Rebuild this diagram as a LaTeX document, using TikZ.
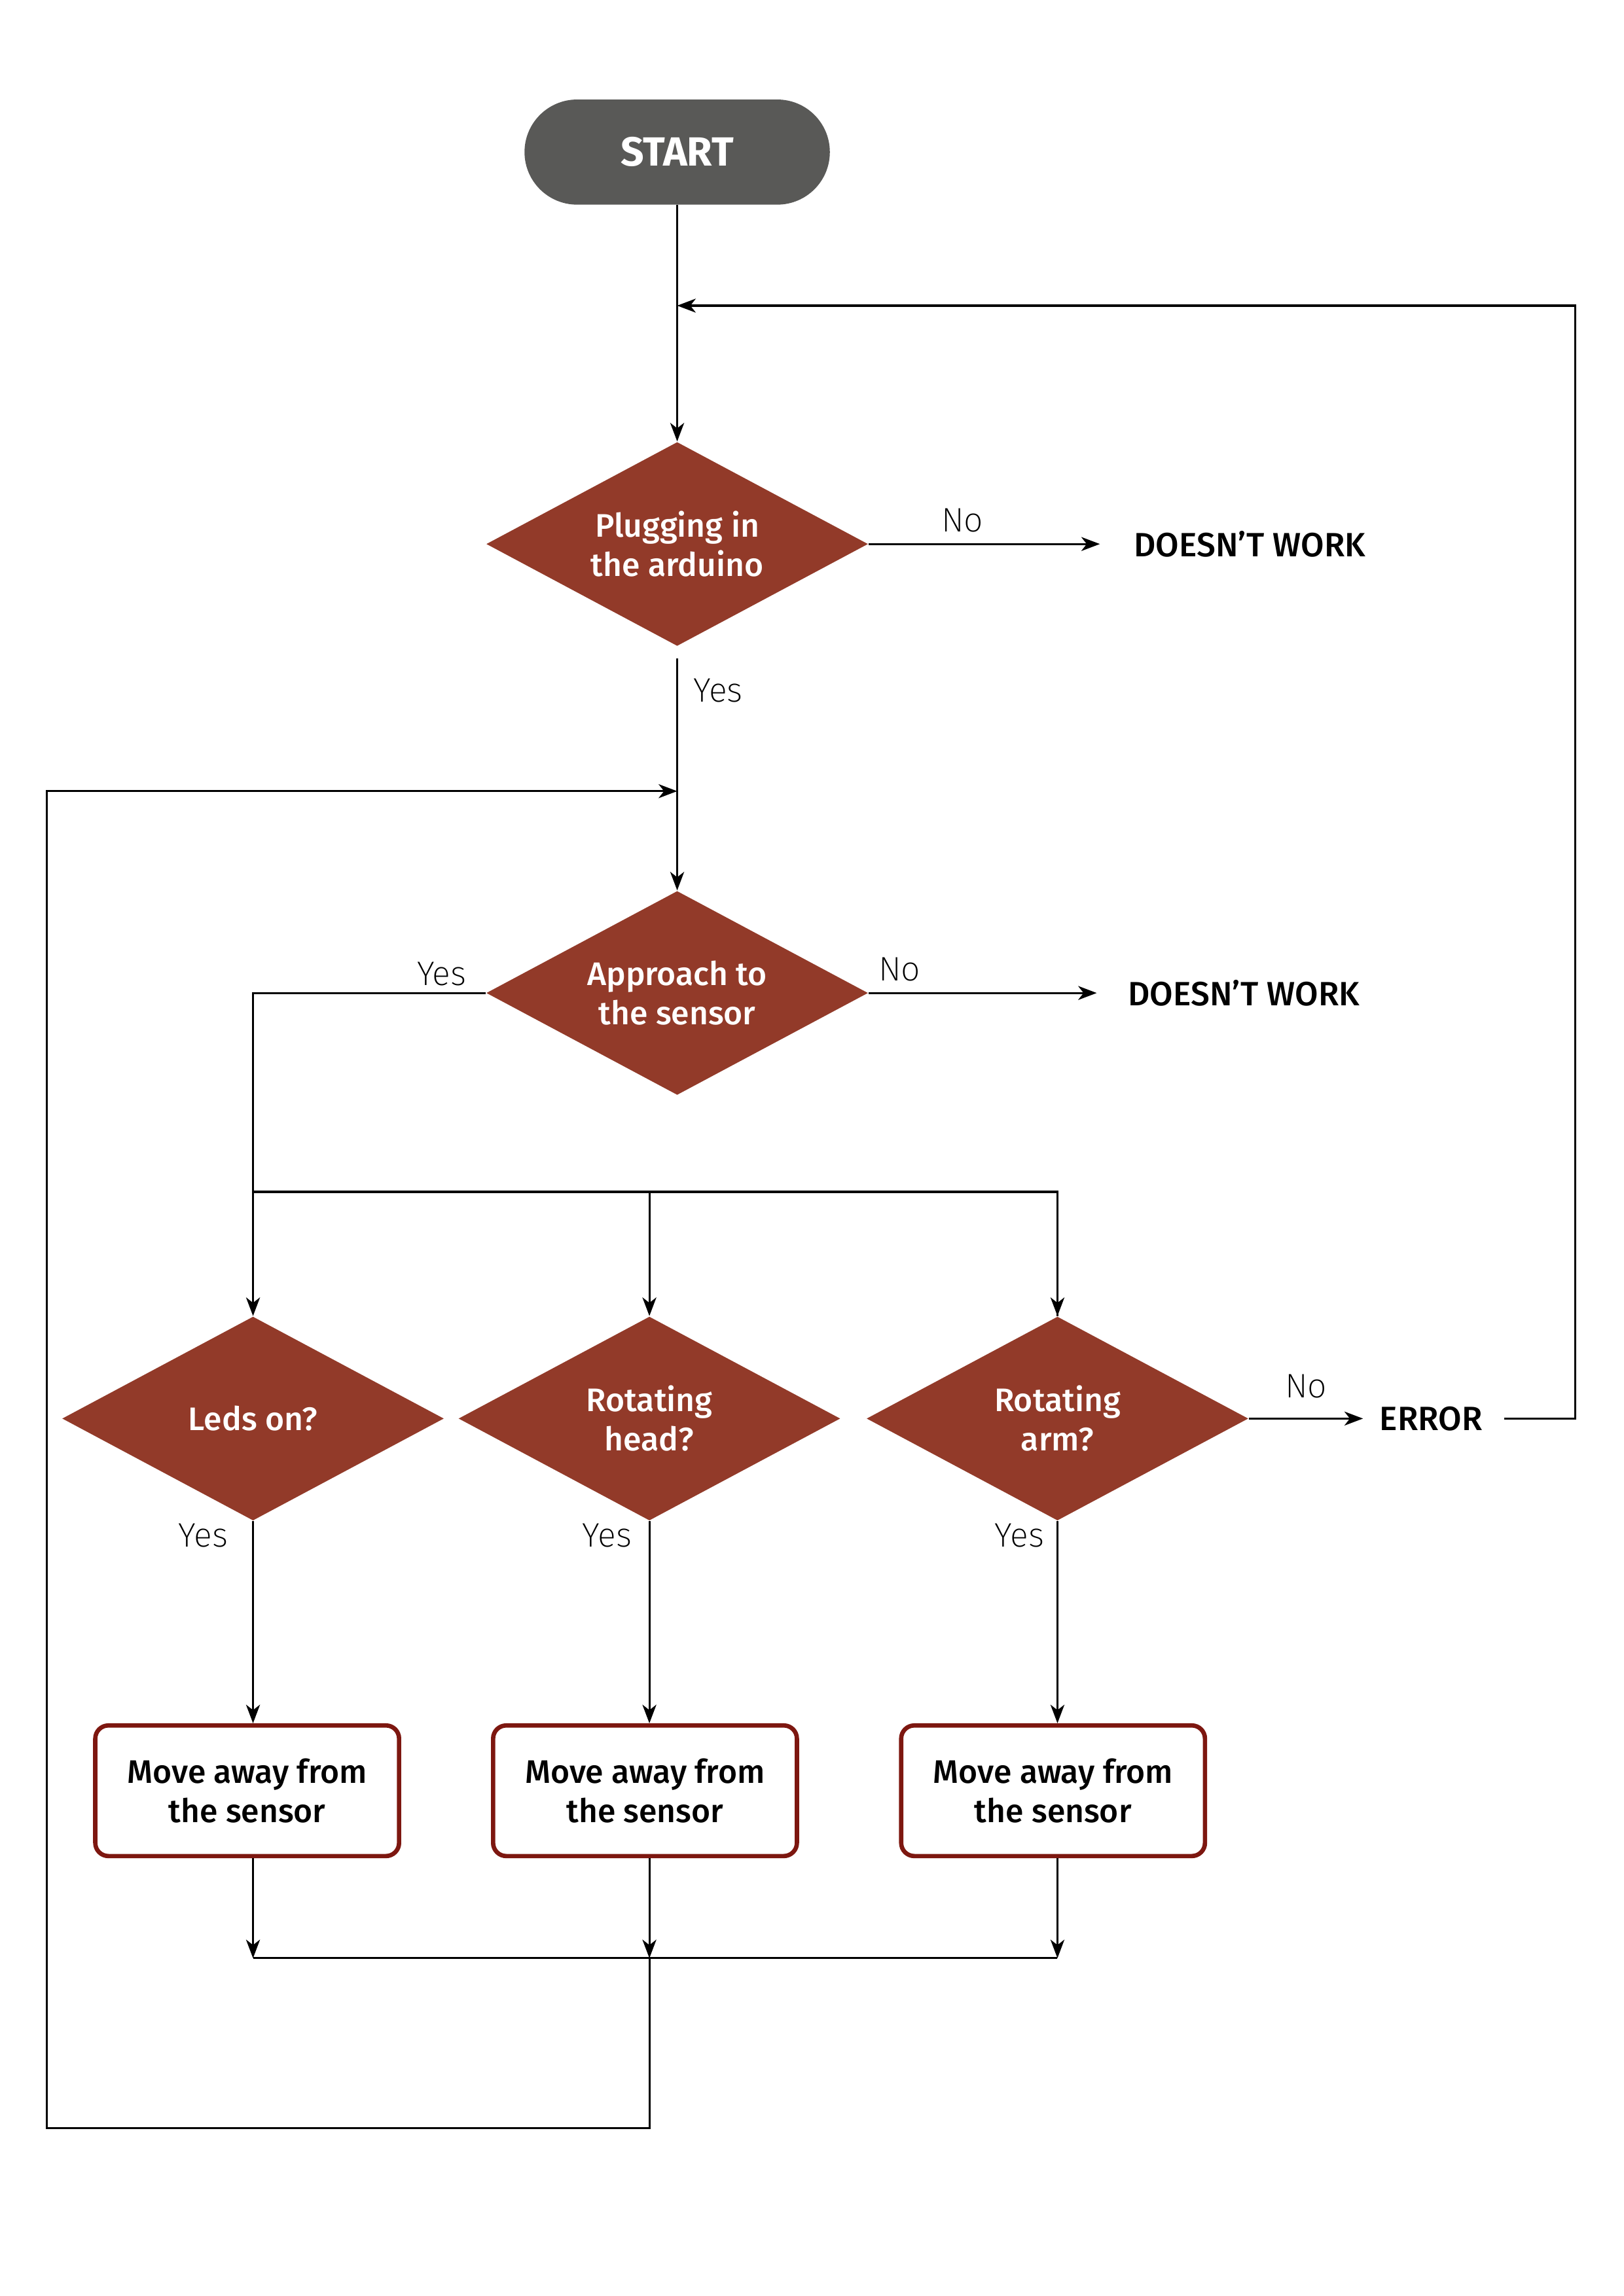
\documentclass[tikz,border=0pt]{standalone}
\usepackage{fontspec}
\setmainfont{Fira Sans}
\newfontfamily\medf{Fira Sans Medium}
\newfontfamily\thinf{Fira Sans ExtraLight}
\usetikzlibrary{shapes.geometric,arrows.meta}
\definecolor{diacol}{HTML}{923A29}
\definecolor{startcol}{HTML}{595957}
\definecolor{boxcol}{HTML}{7D1710}
\tikzset{
  startbox/.style={fill=startcol, minimum width=3.95cm, minimum height=1.36cm,
    rounded corners=0.68cm, text=white, inner sep=0pt,
    font=\bfseries\fontsize{15}{18}\selectfont},
  dia/.style={diamond, fill=diacol, minimum width=4.94cm, minimum height=2.64cm,
    inner sep=0pt, aspect=1.88},
  ditext/.style={text=white, font=\medf\fontsize{12}{14.5}\selectfont, align=center, inner sep=0pt},
  movebox/.style={draw=boxcol, line width=1.6pt, rounded corners=0.17cm,
    minimum width=3.93cm, minimum height=1.69cm, align=center, inner sep=0pt,
    font=\medf\fontsize{12}{14.5}\selectfont},
  lbl/.style={font=\thinf\fontsize{12.5}{14}\selectfont, text=black, inner sep=0pt},
  outtext/.style={font=\medf\fontsize{12.4}{14}\selectfont, inner sep=0pt, anchor=west},
  conn/.style={line width=0.75pt},
}
\begin{document}
\begin{tikzpicture}[x=0.018919cm,y=-0.018919cm,
  >={Stealth[length=2.4mm,width=1.8mm,inset=0.7mm]}]
\useasboundingbox (0,0) rectangle (1110,1570);
% nodes
\node[startbox] (start) at (463,104) {START};
\node[dia] (d1) at (463,372) {};
\node[ditext] (t1) at (d1) {Plugging in\\the arduino};
\node[outtext] (dw1) at (775,372) {DOESN’T WORK};
\node[dia] (d2) at (463,679) {};
\node[ditext] (t2) at (d2) {Approach to\\the sensor};
\node[outtext] (dw2) at (771,679) {DOESN’T WORK};
\node[dia] (d3) at (173,970) {};
\node[ditext] (t3) at (d3) {Leds on?};
\node[dia] (d4) at (444,970) {};
\node[ditext] (t4) at (d4) {Rotating\\head?};
\node[dia] (d5) at (723,970) {};
\node[ditext] (t5) at (d5) {Rotating\\arm?};
\node[outtext] (err) at (943,970) {ERROR};
\node[movebox] (b1) at (169,1224.5) {Move away from\\the sensor};
\node[movebox] (b2) at (441,1224.5) {Move away from\\the sensor};
\node[movebox] (b3) at (720,1224.5) {Move away from\\the sensor};
% labels
\node[lbl] (n1) at (658,356) {No};
\node[lbl] (y1) at (491,472) {Yes};
\node[lbl] (y2) at (302,666) {Yes};
\node[lbl] (n2) at (615,663) {No};
\node[lbl] (n3) at (893,948) {No};
\node[lbl] (y3) at (139,1050) {Yes};
\node[lbl] (y4) at (415,1050) {Yes};
\node[lbl] (y5) at (697,1050) {Yes};
% junction coordinates
\coordinate (loopin) at (463,209);
\coordinate (loopin2) at (463,541);
\coordinate (split) at (173,815);
\coordinate (mid) at (444,1339);
% connectors
\draw[conn,->] (start.south) -- (d1.north);
\draw[conn,->] (d1.east) -- ([xshift=-0.435cm]d1.east -| dw1.west);
\draw[conn,->] ([yshift=-0.15cm]d1.south) -- (d2.north);
\draw[conn,->] (d2.east) -- ([xshift=-0.40cm]d2.east -| dw2.west);
\draw[conn,->] (d2.west) -| (d3.north);
\draw[conn] (split) -| (d5.north);
\draw[conn,->] (split -| d5.north) -- (d5.north);
\draw[conn,->] (split -| d4.north) -- (d4.north);
\draw[conn,->] (d5.east) -- ([xshift=-0.21cm]d5.east -| err.west);
\draw[conn,->] ([xshift=0.28cm]err.east) -| (1077,209) -- (loopin);
\draw[conn,->] (d3.south) -- (d3.south |- b1.north);
\draw[conn,->] (d4.south) -- (d4.south |- b2.north);
\draw[conn,->] (d5.south) -- (d5.south |- b3.north);
\draw[conn,->] (d3.south |- b1.south) -- (d3.south |- mid);
\draw[conn,->] (d4.south |- b2.south) -- (mid);
\draw[conn,->] (d5.south |- b3.south) -- (d5.south |- mid);
\draw[conn] (d3.south |- mid) -- (d5.south |- mid);
\draw[conn,->] (mid) |- (32,1455) -- (32,541) -- (loopin2);
\end{tikzpicture}
\end{document}
